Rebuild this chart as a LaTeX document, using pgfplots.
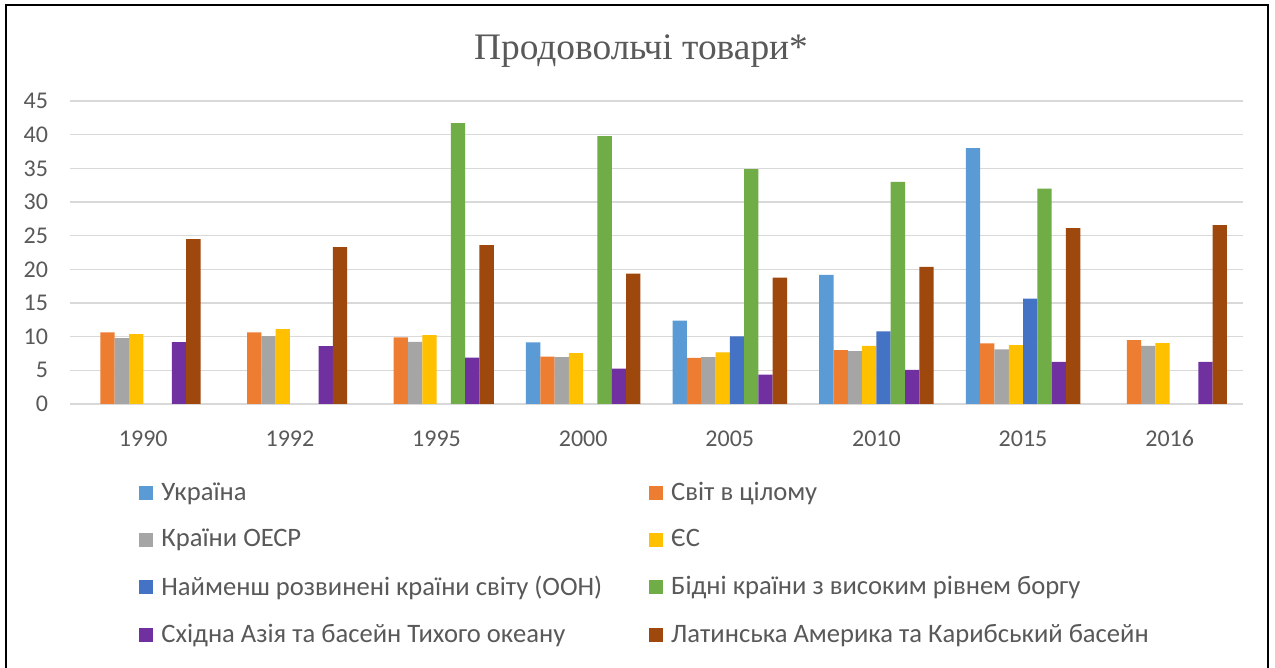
\documentclass[border=0pt]{standalone}
\usepackage{pgfplots}
\pgfplotsset{compat=1.18}
\usepackage{fontspec}
\setmainfont{Carlito}
\newfontfamily\titlefont{Liberation Serif}
\definecolor{ukr}{HTML}{5B9BD5}
\definecolor{world}{HTML}{ED7D31}
\definecolor{oecd}{HTML}{A5A5A5}
\definecolor{eu}{HTML}{FFC000}
\definecolor{ldc}{HTML}{4472C4}
\definecolor{hipc}{HTML}{70AD47}
\definecolor{easia}{HTML}{7030A0}
\definecolor{latam}{HTML}{9E480E}
\definecolor{txt}{HTML}{595959}
\definecolor{gridc}{HTML}{D9D9D9}
\begin{document}
\begin{tikzpicture}[x=0.5pt,y=0.5pt]
\useasboundingbox (0,0) rectangle (1275,668);
\fill[white] (0,0) rectangle (1275,668);
\draw[line width=1pt] (6,-5) -- (6,663) -- (1268,663) -- (1268,-5);
\node[font=\titlefont\fontsize{18.7}{22}\selectfont, text=txt] at (641,617) {Продовольчі товари*};
\begin{axis}[
  at={(35pt,132pt)}, anchor=south west,
  scale only axis, width=586.5pt, height=151.5pt,
  ybar=0pt, bar width=7.15pt,
  xmin=-0.5, xmax=7.5, ymin=0, ymax=45,
  xtick={0,...,7},
  xticklabels={1990,1992,1995,2000,2005,2010,2015,2016},
  ytick={0,5,...,45},
  major tick length=0pt,
  ymajorgrids, grid style={gridc, line width=0.75pt},
  axis x line*=bottom, axis y line*=left,
  x axis line style={gridc, line width=0.75pt, -},
  y axis line style={draw=none},
  /pgf/number format/assume math mode=true,
  tick label style={font=\fontsize{12}{14}\selectfont, text=txt},
  yticklabel style={xshift=-7.5pt},
  xticklabel style={yshift=-9.5pt, text height=8pt, text depth=0pt},
  legend columns=2,
  legend cell align=left,
  legend image code/.code={\fill[#1] (0pt,-3.5pt) rectangle (7pt,3.5pt); \path (9pt,0pt);},
  legend style={at={(rel axis cs:0.0537,-0.230)}, anchor=north west, draw=none,
    font=\fontsize{13.3}{15}\selectfont, text=txt, row sep=9pt,
    /tikz/every even column/.append style={column sep=21.5pt}},
  every axis plot/.append style={draw=none},
]
\addplot[fill=ukr] coordinates {(3,9.14)(4,12.37)(5,19.18)(6,38.0)};
\addplot[fill=world] coordinates {(0,10.63)(1,10.63)(2,9.89)(3,7.05)(4,6.86)(5,8.0)(6,8.99)(7,9.49)};
\addplot[fill=oecd] coordinates {(0,9.79)(1,10.08)(2,9.24)(3,6.95)(4,6.95)(5,7.85)(6,8.10)(7,8.64)};
\addplot[fill=eu] coordinates {(0,10.38)(1,11.13)(2,10.23)(3,7.55)(4,7.65)(5,8.64)(6,8.74)(7,9.04)};
\addplot[fill=ldc] coordinates {(4,10.03)(5,10.78)(6,15.65)};
\addplot[fill=hipc] coordinates {(2,41.7)(3,39.8)(4,34.87)(5,32.98)(6,31.99)};
\addplot[fill=easia] coordinates {(0,9.19)(1,8.59)(2,6.9)(3,5.27)(4,4.37)(5,5.07)(6,6.26)(7,6.26)};
\addplot[fill=latam] coordinates {(0,24.49)(1,23.3)(2,23.6)(3,19.37)(4,18.78)(5,20.37)(6,26.13)(7,26.58)};
\legend{Україна, Світ в цілому, Країни ОЕСР, ЄС, Найменш розвинені країни світу (ООН), Бідні країни з високим рівнем боргу, Східна Азія та басейн Тихого океану, Латинська Америка та Карибський басейн}
\end{axis}
\end{tikzpicture}
\end{document}
